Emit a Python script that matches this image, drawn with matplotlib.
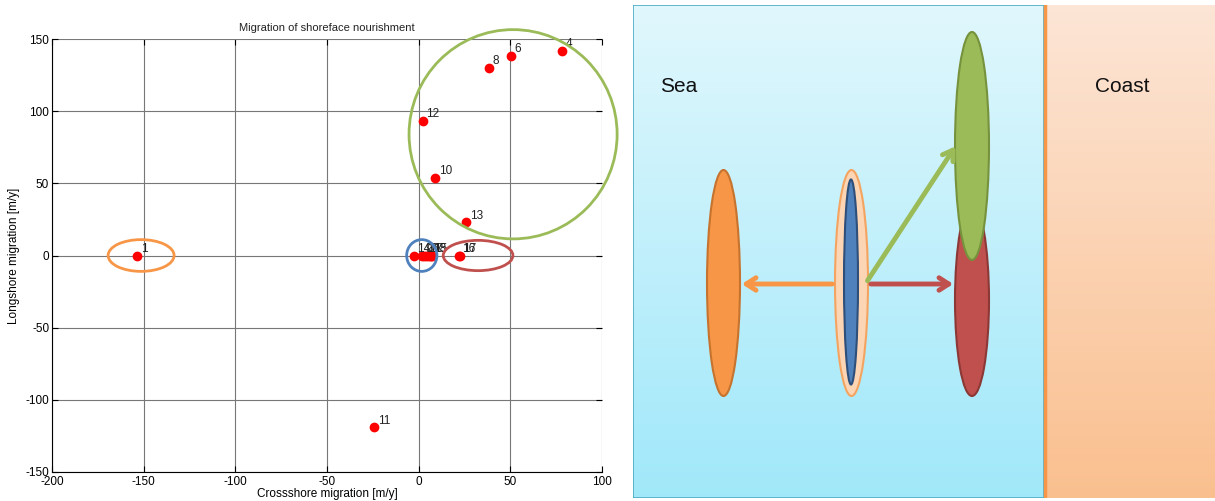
import numpy as np
import matplotlib.pyplot as plt
from matplotlib.patches import Ellipse, Rectangle

plt.rcParams['font.family'] = ['Liberation Sans', 'DejaVu Sans']
plt.rcParams['axes.unicode_minus'] = False

# migration of each nourishment [m/y]
labels = ['1', '4', '6', '8', '12', '10', '13', '11',
          '14', '9', '3', '2', '5', '18', '15', '7', '16', '17']
cross = [-153.5, 78.2, 50.4, 38.4, 2.4, 9.0, 25.9, -24.3,
         -2.8, 2.0, 3.0, 4.0, 5.0, 6.0, 6.5, 7.0, 22.0, 22.3]
along = [0, 142, 138.5, 130, 93.5, 54, 22.9, -119,
         0, 0, 0, 0, 0, 0, 0, 0, 0, 0]

# groups (center x, center y, width, height, colour)
groups = [(-151.4, 0, 36, 22, '#f79646'),
          (1.7, 0, 16.5, 22, '#4f81bd'),
          (32.4, 0, 38, 21, '#c0504d'),
          (51.5, 84, 113.5, 145, '#9bbb59')]

fig = plt.figure(figsize=(12.15, 5.01), dpi=100)

ax = fig.add_axes([52 / 1215, 1 - 472 / 501, 550 / 1215, 433 / 501])
ax.plot(cross, along, 'o', color='red', markersize=6, zorder=3)
for x, y, t in zip(cross, along, labels):
    ax.annotate(t, (x, y), xytext=(2.5, 2.5), textcoords='offset points',
                fontsize=8.5, color='#222222')
for cx, cy, w, h, c in groups:
    ax.add_patch(Ellipse((cx, cy), w, h, fill=False, edgecolor=c, lw=2,
                         clip_on=False, zorder=4))
ax.set_xlim(-200, 100)
ax.set_ylim(-150, 150)
ax.set_xticks(np.arange(-200, 101, 50))
ax.set_yticks(np.arange(-150, 151, 50))
ax.grid(True, color='#777777', lw=0.8)
ax.set_axisbelow(True)
ax.spines['top'].set_visible(False)
ax.spines['right'].set_visible(False)
ax.tick_params(direction='in', length=4, labelsize=8.5, top=True, right=True, pad=2)
ax.tick_params(axis='x', pad=3)
ax.set_title('Migration of shoreface nourishment', fontsize=8, color='#222222', pad=6)
ax.set_xlabel('Crossshore migration [m/y]', fontsize=8.5, labelpad=0)
ax.set_ylabel('Longshore migration [m/y]', fontsize=8.5, labelpad=4)

# schematic panel (pixel coordinates of the sketch)
sea_x = (633, 1044)
coast_x = (1044, 1215)
top, bot = 5, 498
blobs = [(723.5, 283, 33, 226, '#f79646', '#c5732e'),
         (851.5, 283, 33, 226, '#fcd5b5', '#f4a460'),
         (851, 282, 14, 205, '#4f81bd', '#2e4f7a'),
         (972, 300, 34, 192, '#c0504d', '#8c3836'),
         (972, 146, 34, 228, '#9bbb59', '#76923c')]
arrows = [((835, 284), (739, 284), '#f79646'),
          ((868, 284), (956, 284), '#c0504d'),
          ((866, 283), (957, 144), '#9bbb59')]

ax2 = fig.add_axes([633 / 1215, 1 - 498 / 501, 582 / 1215, 493 / 501])
ax2.axis('off')
grad = np.linspace(0, 1, 256)[:, None]
sea_cols = np.array([[0.88, 0.97, 0.99], [0.63, 0.91, 0.98]])
coast_cols = np.array([[0.99, 0.90, 0.84], [0.98, 0.75, 0.56]])
sea_img = sea_cols[0] + grad[..., None] * (sea_cols[1] - sea_cols[0])
coast_img = coast_cols[0] + grad[..., None] * (coast_cols[1] - coast_cols[0])
ax2.imshow(sea_img, extent=(sea_x[0], sea_x[1], bot, top), aspect='auto', zorder=0)
ax2.imshow(coast_img, extent=(coast_x[0], coast_x[1], bot, top), aspect='auto', zorder=0)
ax2.add_patch(Rectangle((sea_x[0], top), sea_x[1] - sea_x[0], bot - top,
                        fill=False, edgecolor='#4bacc6', lw=1.2, zorder=1))
ax2.plot([1045, 1045], [top, bot], color='#f79646', lw=2.5, zorder=1)
ax2.set_xlim(633, 1215)
ax2.set_ylim(bot, top)

for cx, cy, w, h, fc, ec in blobs[:3]:
    ax2.add_patch(Ellipse((cx, cy), w, h, facecolor=fc, edgecolor=ec, lw=1.5, zorder=2))
ax2.add_patch(Ellipse(blobs[3][:2], blobs[3][2], blobs[3][3], facecolor=blobs[3][4],
                      edgecolor=blobs[3][5], lw=1.5, zorder=2))
ax2.add_patch(Ellipse(blobs[4][:2], blobs[4][2], blobs[4][3], facecolor=blobs[4][4],
                      edgecolor=blobs[4][5], lw=1.5, zorder=3))
for (x0, y0), (x1, y1), c in arrows:
    ax2.annotate('', xy=(x1, y1), xytext=(x0, y0),
                 arrowprops=dict(arrowstyle='->,head_width=0.45,head_length=0.7',
                                 color=c, lw=3.5), zorder=4)
ax2.text(660, 86, 'Sea', fontsize=15, va='center', color='#111111')
ax2.text(1095, 86, 'Coast', fontsize=15, va='center', color='#111111')

fig.savefig('out.png', dpi=100)
